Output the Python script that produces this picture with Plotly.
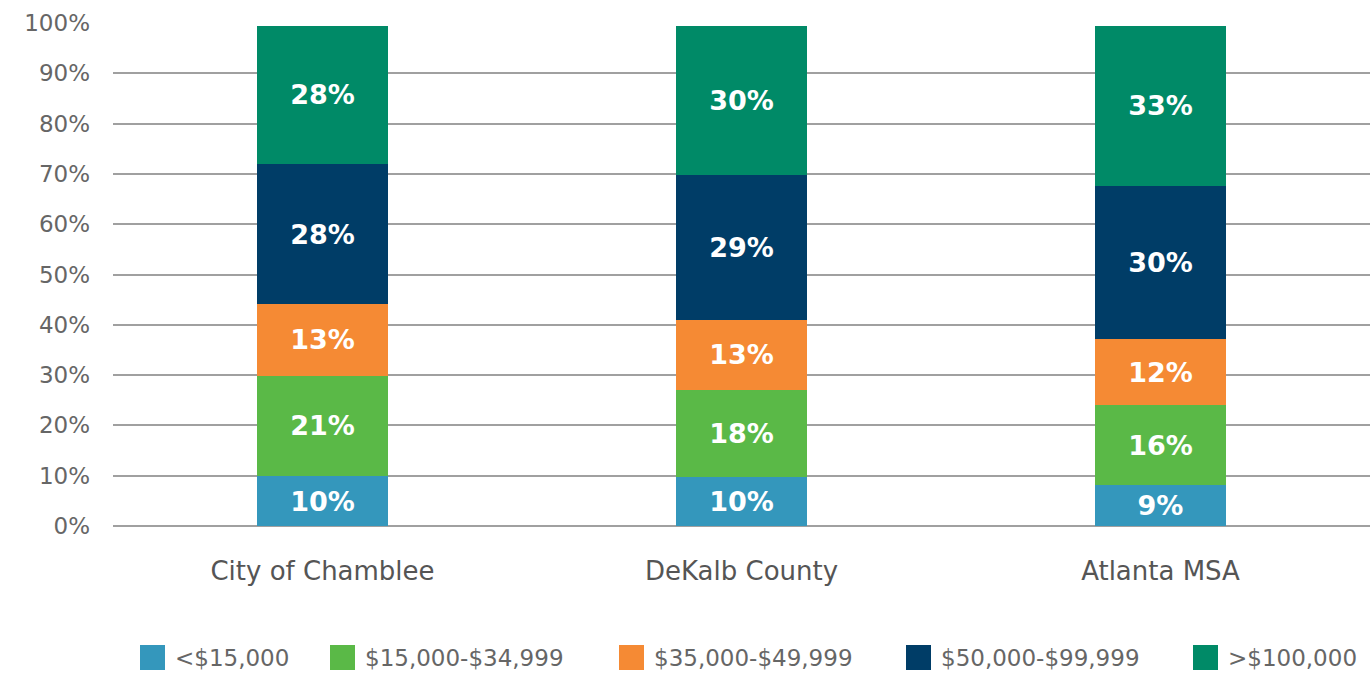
import plotly.graph_objects as go

categories = ["City of Chamblee", "DeKalb County", "Atlanta MSA"]
series_names = ["<$15,000", "$15,000-$34,999", "$35,000-$49,999", "$50,000-$99,999", ">$100,000"]
colors = ["#3497BC", "#5AB947", "#F58A34", "#003D67", "#008A67"]

# bar segment heights (percent) as drawn
under_15k = [9.9, 9.8, 8.2]
k15_35 = [20.0, 17.3, 15.8]
k35_50 = [14.2, 13.9, 13.1]
k50_100 = [27.8, 28.7, 30.4]
over_100k = [27.6, 29.8, 32.0]

# labels printed on the segments
label_under_15k = [10, 10, 9]
label_15_35 = [21, 18, 16]
label_35_50 = [13, 13, 12]
label_50_100 = [28, 29, 30]
label_over_100k = [28, 30, 33]

values = [under_15k, k15_35, k35_50, k50_100, over_100k]
labels = [label_under_15k, label_15_35, label_35_50, label_50_100, label_over_100k]

FONT = "DejaVu Sans"

fig = go.Figure()
for name, vals, labs, col in zip(series_names, values, labels, colors):
    fig.add_trace(go.Bar(
        name=name, x=categories, y=vals,
        marker=dict(color=col, line=dict(width=0)),
        text=[f"{v}%" for v in labs],
        textposition="inside", insidetextanchor="middle",
        textangle=0, constraintext="none",
        textfont=dict(family=FONT, size=27, color="white", weight="bold"),
        showlegend=False,
    ))

# manual legend
legend_x = [140, 330, 619, 906, 1193]
W, H = 1370, 674
shapes = []
annotations = []
for name, col, lx in zip(series_names, colors, legend_x):
    shapes.append(dict(type="rect", xref="paper", yref="paper",
                       x0=(lx - 113) / (W - 113), x1=(lx + 25 - 113) / (W - 113),
                       y0=(526 - 645) / 503, y1=(526 - 670) / 503,
                       fillcolor=col, line=dict(width=0)))
    annotations.append(dict(text=name, xref="paper", yref="paper",
                            x=(lx + 33 - 113) / (W - 113), y=(526 - 658) / 503,
                            xanchor="left", yanchor="middle", showarrow=False,
                            font=dict(family=FONT, size=23, color="#666666")))

fig.update_layout(
    width=W, height=H,
    margin=dict(l=113, r=0, t=23, b=148),
    barmode="stack", bargap=0.685,
    plot_bgcolor="white", paper_bgcolor="white",
    shapes=shapes, annotations=annotations,
    uniformtext=dict(mode=False),
    xaxis=dict(showgrid=False, showline=False, ticks="",
               tickfont=dict(family=FONT, size=26, color="#555555"),
               ticklabelstandoff=27),
    yaxis=dict(range=[0, 100], dtick=10, ticksuffix="%",
               showgrid=True, gridcolor="#A0A0A0", gridwidth=2,
               zeroline=True, zerolinecolor="#A0A0A0", zerolinewidth=2,
               showline=False, ticks="",
               tickfont=dict(family=FONT, size=23, color="#666666"),
               ticklabelstandoff=22),
)
fig.write_html("out.html")
